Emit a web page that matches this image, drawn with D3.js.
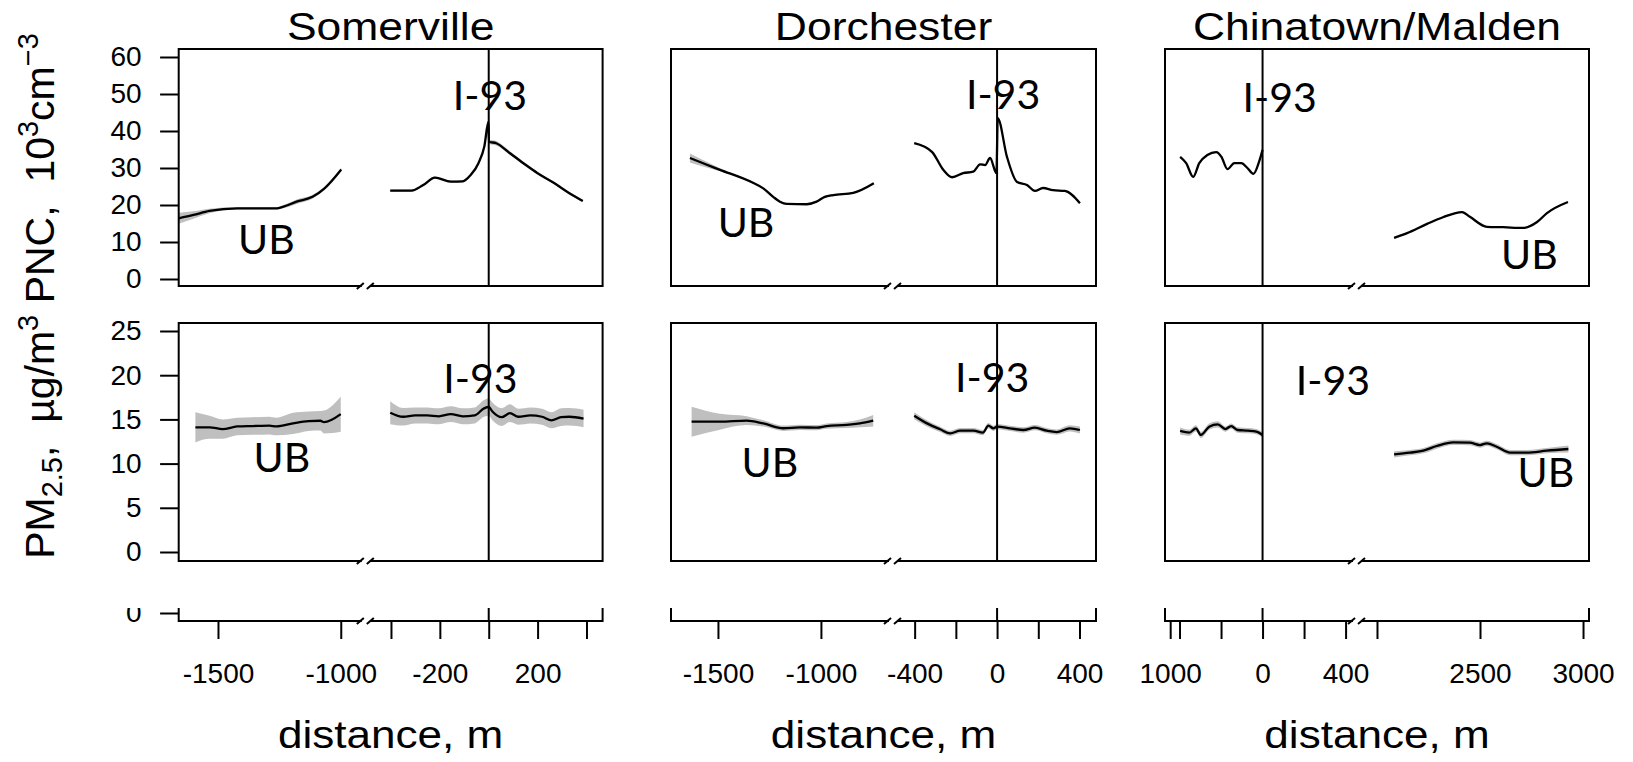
<!DOCTYPE html>
<html>
<head>
<meta charset="utf-8">
<script src="https://cdn.jsdelivr.net/npm/d3@7"></script>
<style>
  body { margin: 0; background: #fff; }
  svg { display: block; font-family: "Liberation Sans", Arial, sans-serif; }
</style>
</head>
<body>
<svg id="chart"></svg>
<script>
// ---- data: [distance m, mean, half-width of grey band] ----
const sites = ["Somerville", "Dorchester", "Chinatown/Malden"];

const somervillePncLeft = [[-1660,16.4,1.5],[-1600,17.3,1.0],[-1535,18.4,0.6],[-1422,19.1,0.3],[-1260,19.1,0.3],[-1236,19.5,0.4],[-1180,20.9,0.6],[-1115,22.2,0.5],[-1066,24.5,0.4],[-998,29.6,0.4]];
const somervillePncRight = [[-403,23.9,0.3],[-317,23.9,0.3],[-268,25.4,0.3],[-220,27.4,0.3],[-155,26.3,0.3],[-107,26.4,0.3],[-74,28.1,0.3],[-42,31.3,0.4],[-18,35.8,0.4],[-1,42.5,0.5],[1,37.1,0.6],[31,36.7,0.6],[87,34,0.5],[152,30.8,0.4],[200,28.6,0.3],[266,26,0.3],[330,23.2,0.3],[385,21.1,0.3]];
const dorchesterPncLeft = [[-1636,32.7,1.2],[-1560,31.0,0.8],[-1490,29.5,0.4],[-1330,26.0,0.2],[-1280,24.5,0.2],[-1232,22.2,0.2],[-1199,20.9,0.2],[-1166,20.3,0.2],[-1069,20.2,0.2],[-1021,20.9,0.2],[-981,22.2,0.2],[-940,22.7,0.2],[-843,23.3,0.2],[-743,25.9,0.2]];
const dorchesterPncRight = [[-402,36.7,0.2],[-315,34.3,0.2],[-261,29.5,0.2],[-218,27.5,0.2],[-165,28.6,0.2],[-116,29,0.2],[-82,31,0.2],[-58,30.8,0.2],[-34,32.7,0.2],[-3,28.6,0.2],[3,43.5,0.3],[48,33,0.3],[97,26.2,0.2],[145,25.4,0.2],[184,23.8,0.2],[223,24.6,0.2],[271,24,0.2],[329,23.8,0.2],[402,20.5,0.2]];
const chinatownPncLeft = [[-397,33,0.2],[-368,31.3,0.2],[-334,27.6,0.2],[-305,31.3,0.2],[-266,33.5,0.2],[-223,34.3,0.2],[-198,33,0.2],[-169,29.7,0.2],[-136,31.3,0.2],[-102,31.3,0.2],[-73,30,0.2],[-44,28.4,0.2],[-15,32,0.2],[0,34.9,0.2]];
const chinatownPncRight = [[2083,11.1,0.2],[2146,12.4,0.2],[2243,14.9,0.2],[2320,16.7,0.2],[2413,18.1,0.2],[2451,16.8,0.2],[2534,14.1,0.2],[2612,14,0.2],[2709,13.8,0.2],[2777,15.4,0.2],[2825,17.8,0.2],[2927,20.8,0.2]];

const somervillePmLeft = [[-1592,14.1,1.7],[-1534,14.1,1.3],[-1481,13.9,1.1],[-1422,14.2,1.0],[-1359,14.25,1.0],[-1291,14.3,1.0],[-1262,14.2,1.0],[-1194,14.55,1.2],[-1131,14.8,1.1],[-1083,14.85,1.1],[-1068,14.7,1.3],[-1000,15.6,2.0]];
const somervillePmRight = [[-403,15.76,1.3],[-350,15.3,1.0],[-301,15.45,0.9],[-252,15.45,0.9],[-204,15.35,0.9],[-155,15.6,0.9],[-107,15.35,0.9],[-58,15.45,0.9],[-19,16.25,0.95],[0,16.4,1.0],[15,15.9,1.0],[53,15.25,1.0],[87,15.7,1.0],[121,15.3,0.9],[170,15.45,0.9],[218,15.3,0.9],[257,14.9,0.9],[296,15.25,1.0],[330,15.3,1.0],[388,15.1,1.0]];
const dorchesterPmLeft = [[-1628,14.74,1.7],[-1490,14.74,0.9],[-1361,14.86,0.5],[-1280,14.55,0.35],[-1183,14.0,0.3],[-1102,14.1,0.3],[-1021,14.07,0.3],[-972,14.25,0.3],[-875,14.37,0.35],[-811,14.55,0.45],[-746,14.86,0.65]];
const dorchesterPmRight = [[-402,15.42,0.4],[-340,14.55,0.35],[-276,13.88,0.3],[-227,13.42,0.3],[-179,13.72,0.3],[-115,13.72,0.3],[-69,13.5,0.3],[-42,14.29,0.3],[-18,13.99,0.3],[0,14.18,0.3],[63,13.99,0.3],[127,13.8,0.3],[184,14.06,0.3],[241,13.72,0.3],[289,13.57,0.3],[353,13.99,0.35],[402,13.8,0.4]];
const chinatownPmLeft = [[-397,13.69,0.4],[-353,13.5,0.35],[-321,13.99,0.35],[-297,13.24,0.35],[-257,14.18,0.35],[-216,14.44,0.35],[-179,13.91,0.3],[-151,14.25,0.3],[-120,13.8,0.3],[-71,13.72,0.3],[-30,13.61,0.3],[0,13.24,0.3]];
const chinatownPmRight = [[2083,11.05,0.35],[2160,11.24,0.3],[2225,11.46,0.3],[2290,11.99,0.3],[2370,12.41,0.3],[2451,12.37,0.3],[2500,12.1,0.3],[2533,12.29,0.3],[2581,11.91,0.3],[2646,11.24,0.3],[2727,11.24,0.3],[2824,11.46,0.3],[2929,11.65,0.4]];

// labels placed in data units: [text, distance, value]
const pncNotes = [
  [["I-93", 5, 45.7], ["UB", -1303, 6.8]],
  [["I-93", 29, 45.9], ["UB", -1364, 11.35]],
  [["I-93", 82, 45.1], ["UB", 2740, 2.7]]
];
const pmNotes = [
  [["I-93", -34, 18.0], ["UB", -1240, 9.05]],
  [["I-93", -24, 18.1], ["UB", -1248, 8.5]],
  [["I-93", 339, 17.8], ["UB", 2820, 7.35]]
];

const pncTicks = [0, 10, 20, 30, 40, 50, 60];
const pmTicks = [0, 5, 10, 15, 20, 25];

const distanceTicks = [
  [-1500, -1000, -400, -200, 0, 200, 400],
  [-1500, -1000, -400, -200, 0, 200, 400],
  [-445, -400, -200, 0, 200, 400, 2000, 2500, 3000]
];
const distanceTickLabels = [
  ["-1500", "-1000", "", "-200", "", "200", ""],
  ["-1500", "-1000", "-400", "", "0", "", "400"],
  ["1000", "", "", "0", "", "400", "", "2500", "3000"]
];

// broken-axis domains: [start, end of first part, start of second part, end]
const xDomains = [
  [-1660, -898, -503, 466],
  [-1728, -650, -505, 480],
  [-470, 455, 1903, 3029]
];

// ---- layout ----
const width = 1633, height = 762;
const cols = [
  { x0: 178.7, x1: 602.6, brk: 365.8 },
  { x0: 671, x1: 1096, brk: 893 },
  { x0: 1165, x1: 1589, brk: 1357 }
];
const pncRow = { top: 49, bottom: 286 };
const pmRow = { top: 323, bottom: 561 };
const stripRow = { clipTop: 608, bottom: 621 };
const bandColor = "#bfbfbf";
const labelFont = "Lato, 'Open Sans', sans-serif";
const tickFont = 28;

const yPnc = d3.scaleLinear().domain([0, 60]).range([279, 57]);
const yPm = d3.scaleLinear().domain([0, 25]).range([552, 331]);
const yStrip = d3.scaleLinear().domain([0, 25]).range([613, 392]);

const svg = d3.select("#chart").attr("width", width).attr("height", height);
svg.append("rect").attr("width", width).attr("height", height).attr("fill", "#fff");

svg.append("defs").append("clipPath").attr("id", "stripClip")
  .append("rect").attr("x", 0).attr("y", stripRow.clipTop).attr("width", width).attr("height", height);

function breakMarks(g, brk, y) {
  g.append("rect").attr("x", brk - 4).attr("y", y - 3).attr("width", 8).attr("height", 6).attr("fill", "#fff");
  [[-9, -2], [1, 8]].forEach(([a, b]) => {
    g.append("line")
      .attr("x1", brk + a).attr("y1", y + 3)
      .attr("x2", brk + b).attr("y2", y - 3)
      .attr("stroke", "#000").attr("stroke-width", 2);
  });
}

function styleAxis(g) {
  g.select(".domain").remove();
  g.attr("font-family", "'Liberation Sans', Arial, sans-serif").attr("font-size", tickFont);
  g.selectAll(".tick line").attr("stroke-width", 2);
  g.selectAll(".tick text").attr("fill", "#000");
}

// wide text, as in the picture (glyphs stretched sideways)
function wideText(x, y, size, stretch, str) {
  return svg.append("text")
    .attr("transform", `translate(${x},${y}) scale(${stretch},1)`)
    .attr("text-anchor", "middle")
    .style("font-size", size + "px")
    .text(str);
}

function drawPanel(ci, yScale, row, segments, notes) {
  const col = cols[ci];
  const x = d3.scaleLinear().domain(xDomains[ci]).range([col.x0, col.brk, col.brk, col.x1]);
  const g = svg.append("g");

  const area = d3.area()
    .x((d) => x(d[0]))
    .y0((d) => yScale(d[1] - d[2]))
    .y1((d) => yScale(d[1] + d[2]))
    .curve(d3.curveMonotoneX);
  const line = d3.line()
    .x((d) => x(d[0]))
    .y((d) => yScale(d[1]))
    .curve(d3.curveMonotoneX);

  segments.forEach((seg) => {
    g.append("path").attr("d", area(seg)).attr("fill", bandColor);
  });
  segments.forEach((seg) => {
    g.append("path").attr("d", line(seg))
      .attr("fill", "none").attr("stroke", "#000").attr("stroke-width", 2.3)
      .attr("stroke-linejoin", "round");
  });

  g.append("line")
    .attr("x1", x(0)).attr("x2", x(0))
    .attr("y1", row.top).attr("y2", row.bottom)
    .attr("stroke", "#000").attr("stroke-width", 2);

  g.append("rect")
    .attr("x", col.x0).attr("y", row.top)
    .attr("width", col.x1 - col.x0).attr("height", row.bottom - row.top)
    .attr("fill", "none").attr("stroke", "#000").attr("stroke-width", 2);

  breakMarks(g, col.brk, row.bottom);

  g.selectAll(".note")
    .data(notes)
    .enter()
    .append("text")
    .attr("x", (d) => x(d[1]))
    .attr("y", (d) => yScale(d[2]))
    .attr("text-anchor", "middle")
    .style("font-family", labelFont)
    .style("font-size", "41px")
    .text((d) => d[0]);
}

function drawStrip(ci) {
  const col = cols[ci];
  const x = d3.scaleLinear().domain(xDomains[ci]).range([col.x0, col.brk, col.brk, col.x1]);
  const g = svg.append("g").attr("clip-path", "url(#stripClip)");

  g.append("line")
    .attr("x1", x(0)).attr("x2", x(0))
    .attr("y1", stripRow.clipTop - 10).attr("y2", stripRow.bottom)
    .attr("stroke", "#000").attr("stroke-width", 2);

  g.append("rect")
    .attr("x", col.x0).attr("y", stripRow.clipTop - 40)
    .attr("width", col.x1 - col.x0).attr("height", stripRow.bottom - stripRow.clipTop + 40)
    .attr("fill", "none").attr("stroke", "#000").attr("stroke-width", 2);

  breakMarks(g, col.brk, stripRow.bottom);

  g.append("g")
    .attr("transform", `translate(0,${stripRow.bottom})`)
    .call(
      d3.axisBottom(x)
        .tickValues(distanceTicks[ci])
        .tickFormat((d, i) => distanceTickLabels[ci][i])
        .tickSize(18)
        .tickPadding(24)
    )
    .call(styleAxis);

  if (ci === 0) {
    g.append("g")
      .attr("transform", `translate(${col.x0},0)`)
      .call(d3.axisLeft(yStrip).tickValues([0]).tickSize(18.6).tickPadding(18.5))
      .call(styleAxis);
  }

  wideText((col.x0 + col.x1) / 2, 748, 38, 1.16, "distance, m");
}

const pncSegments = [
  [somervillePncLeft, somervillePncRight],
  [dorchesterPncLeft, dorchesterPncRight],
  [chinatownPncLeft, chinatownPncRight]
];
const pmSegments = [
  [somervillePmLeft, somervillePmRight],
  [dorchesterPmLeft, dorchesterPmRight],
  [chinatownPmLeft, chinatownPmRight]
];

sites.forEach((site, ci) => {
  drawPanel(ci, yPnc, pncRow, pncSegments[ci], pncNotes[ci]);
  drawPanel(ci, yPm, pmRow, pmSegments[ci], pmNotes[ci]);
  drawStrip(ci);
  wideText((cols[ci].x0 + cols[ci].x1) / 2, 40, 38, 1.17, site);
});

// y axes on the first column only
svg.append("g")
  .attr("transform", `translate(${cols[0].x0},0)`)
  .call(d3.axisLeft(yPnc).tickValues(pncTicks).tickSize(18.6).tickPadding(18.5))
  .call(styleAxis);

svg.append("g")
  .attr("transform", `translate(${cols[0].x0},0)`)
  .call(d3.axisLeft(yPm).tickValues(pmTicks).tickSize(18.6).tickPadding(18.5))
  .call(styleAxis);

// rotated y title with sub/superscripts
const titleParts = [
  ["PM", 0], ["2.5", 1], [",  \u00b5g/m", 0], ["3", 2],
  [" PNC,  10", 0], ["3", 2], ["cm", 0], ["\u22123", 2]
];
const yTitle = svg.append("text")
  .attr("transform", "translate(54,296) rotate(-90)")
  .attr("text-anchor", "middle")
  .style("font-size", "41px")
  .style("white-space", "pre");
let shift = 0;
titleParts.forEach(([t, kind]) => {
  const target = kind === 1 ? 8 : kind === 2 ? -16 : 0;
  yTitle.append("tspan")
    .attr("dy", target - shift)
    .style("font-size", kind ? "29px" : "41px")
    .text(t);
  shift = target;
});
</script>
</body>
</html>
